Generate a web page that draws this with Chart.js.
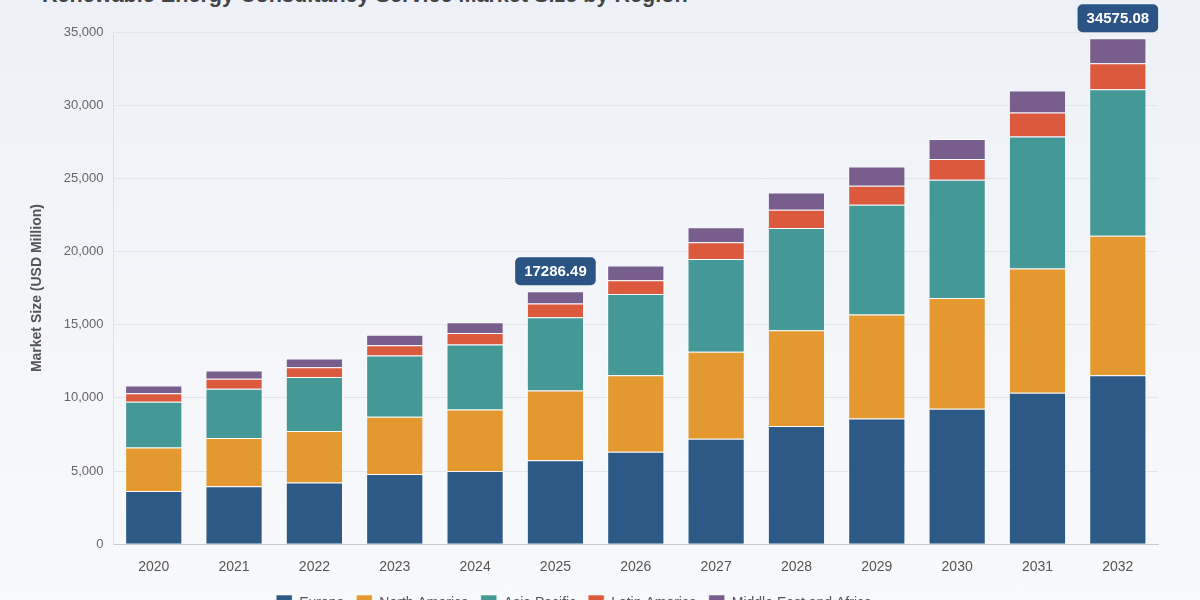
<!DOCTYPE html>
<html>
<head>
<meta charset="utf-8">
<script src="https://cdn.jsdelivr.net/npm/chart.js@4.4.1/dist/chart.umd.min.js"></script>
<style>
  html, body { margin: 0; padding: 0; width: 1200px; height: 600px; overflow: hidden; }
  body { background: linear-gradient(180deg, #edf1f7 0%, #f4f6f9 60%, #f8f9fb 100%); position: relative; font-family: "Liberation Sans", Arial, sans-serif; }
  #title { position: absolute; left: 42px; top: -18px; font-size: 21.6px; font-weight: bold; color: #444; white-space: nowrap; }
  #wrap { position: absolute; left: -10px; top: 0; width: 1210px; height: 621px; }
</style>
</head>
<body>
<div id="title">Renewable Energy Consultancy Service Market Size by Region</div>
<div id="wrap"><canvas id="chart"></canvas></div>
<script>
// values in USD Million
const years = ['2020', '2021', '2022', '2023', '2024', '2025', '2026', '2027', '2028', '2029', '2030', '2031', '2032'];
const europe = [3640, 3960, 4210, 4800, 5000, 5735.2, 6323, 7210, 8073, 8597, 9259, 10350, 11551];
const northAmerica = [2960, 3290, 3520, 3910, 4210, 4775.6, 5230, 5936, 6550, 7096, 7573, 8481, 9532];
const asiaPacific = [3140, 3370, 3690, 4180, 4430, 5001.3, 5550, 6347, 6985, 7505, 8072, 9028, 10009];
const latinAmerica = [570, 680, 680, 700, 800, 932.4, 931, 1134, 1249, 1297, 1412, 1638, 1774];
const middleEastAfrica = [540, 570, 590, 730, 720, 841.99, 1002, 1023, 1181, 1318, 1364, 1500, 1709.08];
const calloutYears = ['2025', '2032'];

const series = [
    { label: 'Europe', data: europe, color: '#2d5986' },
    { label: 'North America', data: northAmerica, color: '#e3992f' },
    { label: 'Asia Pacific', data: asiaPacific, color: '#449896' },
    { label: 'Latin America', data: latinAmerica, color: '#db5a3e' },
    { label: 'Middle East and Africa', data: middleEastAfrica, color: '#775e8c' }
];

// draws the total above the highlighted bars
const totalCallouts = {
    id: 'totalCallouts',
    afterDatasetsDraw(chart) {
        const ctx = chart.ctx;
        const xs = chart.scales.x, ys = chart.scales.y;
        ctx.save();
        ctx.font = 'bold 15px "Liberation Sans", Arial, sans-serif';
        ctx.textAlign = 'center';
        ctx.textBaseline = 'middle';
        calloutYears.forEach(yr => {
            const i = years.indexOf(yr);
            let total = 0;
            chart.data.datasets.forEach(ds => { total += ds.data[i]; });
            const txt = total.toFixed(2);
            const x = xs.getPixelForValue(i);
            const y = ys.getPixelForValue(total);
            const w = ctx.measureText(txt).width + 18, h = 28;
            ctx.fillStyle = '#2b5485';
            ctx.beginPath();
            ctx.roundRect(x - w / 2, y - 6 - h, w, h, 5);
            ctx.fill();
            ctx.fillStyle = '#ffffff';
            ctx.fillText(txt, x, y - 6 - h / 2 + 1);
        });
        ctx.restore();
    }
};

new Chart(document.getElementById('chart'), {
    type: 'bar',
    data: {
        labels: years,
        datasets: series.map(s => ({
            label: s.label,
            data: s.data,
            backgroundColor: s.color,
            borderColor: 'rgba(255,255,255,0.55)',
            borderWidth: 1,
            categoryPercentage: 0.8,
            barPercentage: 0.89
        }))
    },
    options: {
        responsive: true,
        maintainAspectRatio: false,
        animation: false,
        layout: { padding: { top: 32, left: 0, right: 42, bottom: 0 } },
        font: { family: '"Liberation Sans", Arial, sans-serif' },
        scales: {
            x: {
                stacked: true,
                grid: { display: false },
                border: { color: '#c8ccd2' },
                ticks: { color: '#555', font: { size: 14 }, padding: 7 }
            },
            y: {
                stacked: true,
                min: 0,
                max: 35000,
                ticks: { stepSize: 5000, color: '#666', font: { size: 13 }, padding: 10 },
                grid: { color: '#e2e6eb', drawTicks: false },
                border: { color: '#dde1e6' },
                title: { display: true, text: 'Market Size (USD Million)', color: '#555', font: { size: 14, weight: 'bold' }, padding: { top: 39, bottom: 8 } }
            }
        },
        plugins: {
            legend: {
                position: 'bottom',
                labels: { boxWidth: 16, boxHeight: 16, color: '#555', font: { size: 14 }, padding: 12 }
            },
            tooltip: { enabled: false }
        }
    },
    plugins: [totalCallouts]
});
</script>
</body>
</html>
